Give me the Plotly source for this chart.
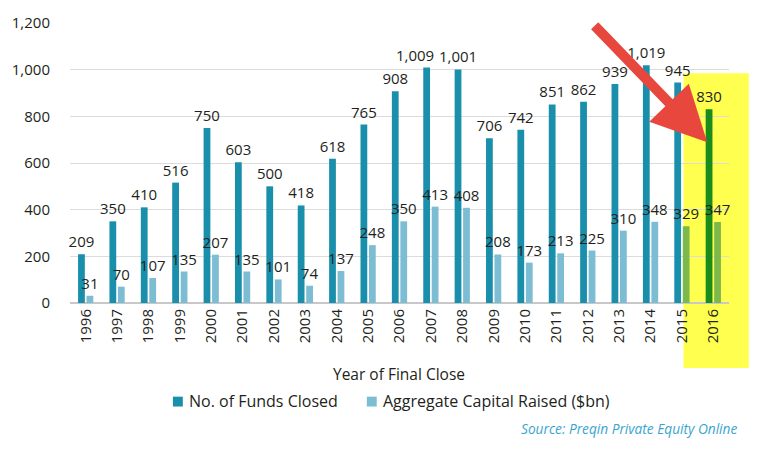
import plotly.graph_objects as go

years = [str(y) for y in range(1996, 2017)]
funds_closed = [209, 350, 410, 516, 750, 603, 500, 418, 618, 765, 908, 1009, 1001,
                706, 742, 851, 862, 939, 1019, 945, 830]
capital_raised = [31, 70, 107, 135, 207, 135, 101, 74, 137, 248, 350, 413, 408,
                  208, 173, 213, 225, 310, 348, 329, 347]
y_ticks = [0, 200, 400, 600, 800, 1000, 1200]
series_names = ["No. of Funds Closed", "Aggregate Capital Raised ($bn)"]

TEAL = "#1a8fab"
LIGHT = "#7dbdd4"
TEAL_HL = "#1a8c1c"
LIGHT_HL = "#7cb84a"

funds_colors = [TEAL] * len(years)
funds_colors[-1] = TEAL_HL
cap_colors = [LIGHT] * len(years)
cap_colors[-1] = LIGHT_HL
cap_colors[-2] = LIGHT_HL

FONT = "Open Sans"
TXT = "#231f20"

# label of 2007 is nudged left (as in the original) so it does not collide with 2008
nudged = years.index("2007")
funds_text = [f"{v:,}" for v in funds_closed]
funds_text[nudged] = ""

fig = go.Figure()
fig.add_trace(go.Bar(
    x=years, y=funds_closed, name=series_names[0],
    marker=dict(color=funds_colors, line=dict(width=0)),
    text=funds_text, textposition="outside", constraintext="none",
    textfont=dict(size=15, color=TXT, family=FONT), cliponaxis=False,
))
fig.add_trace(go.Bar(
    x=years, y=capital_raised, name=series_names[1],
    marker=dict(color=cap_colors, line=dict(width=0)),
    texttemplate="%{y:,}", textposition="outside", constraintext="none",
    textfont=dict(size=15, color=TXT, family=FONT), cliponaxis=False,
))

W, H = 762, 451
L, R, T, B = 63, 33, 19, 148
pw, ph = W - L - R, H - T - B

def px(x):
    return (x - L) / pw

def py(y):
    return (H - B - y) / ph

fig.update_layout(
    width=W, height=H,
    margin=dict(l=L, r=R, t=T, b=B),
    paper_bgcolor="white", plot_bgcolor="rgba(0,0,0,0)",
    barmode="group", bargap=0.46, bargroupgap=0.2,
    font=dict(family=FONT, size=15, color=TXT),
    showlegend=False,
    xaxis=dict(type="category", range=[-0.5, len(years) - 0.5], tickangle=-90,
               showgrid=False, showline=False,
               ticks="", ticklabelstandoff=2, tickfont=dict(size=15, color=TXT)),
    yaxis=dict(range=[0, 1200], tickvals=y_ticks, tickformat=",", showgrid=True,
               gridcolor="#dcdcdc", gridwidth=1, zeroline=True, zerolinecolor="#c8c8c8",
               zerolinewidth=1.5, ticks="", ticklabelstandoff=19,
               tickfont=dict(size=15, color=TXT)),
)

# nudged 2007 label (x given as category index)
fig.add_annotation(text=f"{funds_closed[nudged]:,}", x=nudged, y=funds_closed[nudged],
                   xref="x", yref="y", xanchor="center", yanchor="bottom", xshift=-16, yshift=1,
                   showarrow=False, font=dict(size=15, color=TXT, family=FONT))

# yellow highlight
fig.add_shape(type="rect", xref="paper", yref="paper",
              x0=px(683), x1=px(749), y0=py(369), y1=py(70),
              fillcolor="#ffff4f", line=dict(width=0), layer="below")

# x-axis title
fig.add_annotation(text="Year of Final Close", xref="paper", yref="paper",
                   x=px(395), y=py(375), xanchor="center", yanchor="middle", showarrow=False,
                   font=dict(size=15.5, color=TXT, family=FONT))

# legend (drawn by hand so spacing matches)
for name, col, xl in [(series_names[0], TEAL, 167), (series_names[1], LIGHT, 363)]:
    fig.add_shape(type="rect", xref="paper", yref="paper",
                  x0=px(xl), x1=px(xl + 10), y0=py(408), y1=py(398),
                  fillcolor=col, line=dict(width=0))
    fig.add_annotation(text=name, xref="paper", yref="paper", x=px(xl + 14), y=py(402),
                       xanchor="left", yanchor="middle", showarrow=False,
                       font=dict(size=16, color=TXT, family=FONT))

# source
fig.add_annotation(text="<i>Source: Preqin Private Equity Online</i>", xref="paper", yref="paper",
                   x=px(739), y=py(430), xanchor="right", yanchor="middle", showarrow=False,
                   font=dict(size=13.7, color="#3aa5cf", family=FONT))
# red arrow
fig.add_annotation(text="", xref="paper", yref="paper", x=px(707), y=py(140),
                   ax=593 - 707, ay=22 - 140, showarrow=True, arrowhead=2,
                   arrowwidth=10, arrowsize=1.1, arrowcolor="#e8473d", standoff=0)

fig.write_html("out.html")
